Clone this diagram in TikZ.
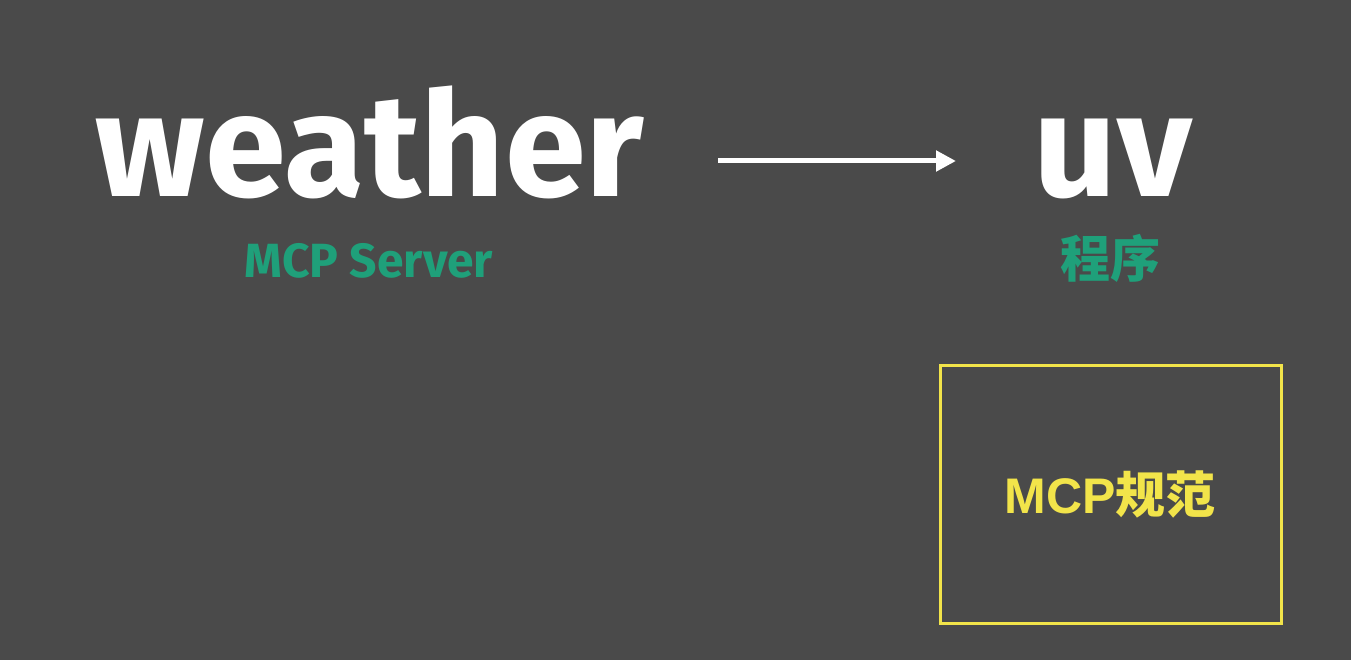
\documentclass[tikz,border=0pt]{standalone}
\usepackage{fontspec}
\setmainfont{Fira Sans}
\newfontfamily\cjk{Noto Sans CJK SC}
\newfontfamily\arial{Liberation Sans}
\usetikzlibrary{arrows.meta}
\definecolor{bg}{HTML}{4A4A4A}
\definecolor{mygreen}{HTML}{1FA07A}
\definecolor{myyellow}{HTML}{F2E44A}
\begin{document}
\begin{tikzpicture}[x=1pt,y=-1pt,
  big/.style={text=white,font=\bfseries\fontsize{146}{146}\selectfont,inner sep=0pt,anchor=base},
  sub/.style={text=mygreen,font=\bfseries\fontsize{48}{48}\selectfont,inner sep=0pt,anchor=base}]
\fill[bg] (0,0) rectangle (1351,660);
\useasboundingbox (0,0) rectangle (1351,660);
\node[big] (w) at (370,197) {weather};
\node[big] (uv) at (1113,197) {uv};
\node[sub] (ms) at (369,277) {MCP Server};
\node[sub,font=\cjk\bfseries\fontsize{50}{50}\selectfont] (cx) at (1110,277) {程序};
\coordinate (a1) at (718,161);
\coordinate (a2) at (956,161);
\draw[white,line width=5pt,-{Triangle[length=20pt,width=20pt]}] (a1) -- (a2);
\node[draw=myyellow,line width=3pt,minimum width=341pt,minimum height=258pt,inner sep=0pt] (box) at (1110.5,494) {};
\node[text=myyellow,font=\arial\bfseries\fontsize{50}{50}\selectfont,inner sep=0pt] (mcp) at (1110,494) {MCP\cjk\bfseries 规范};
\end{tikzpicture}
\end{document}
